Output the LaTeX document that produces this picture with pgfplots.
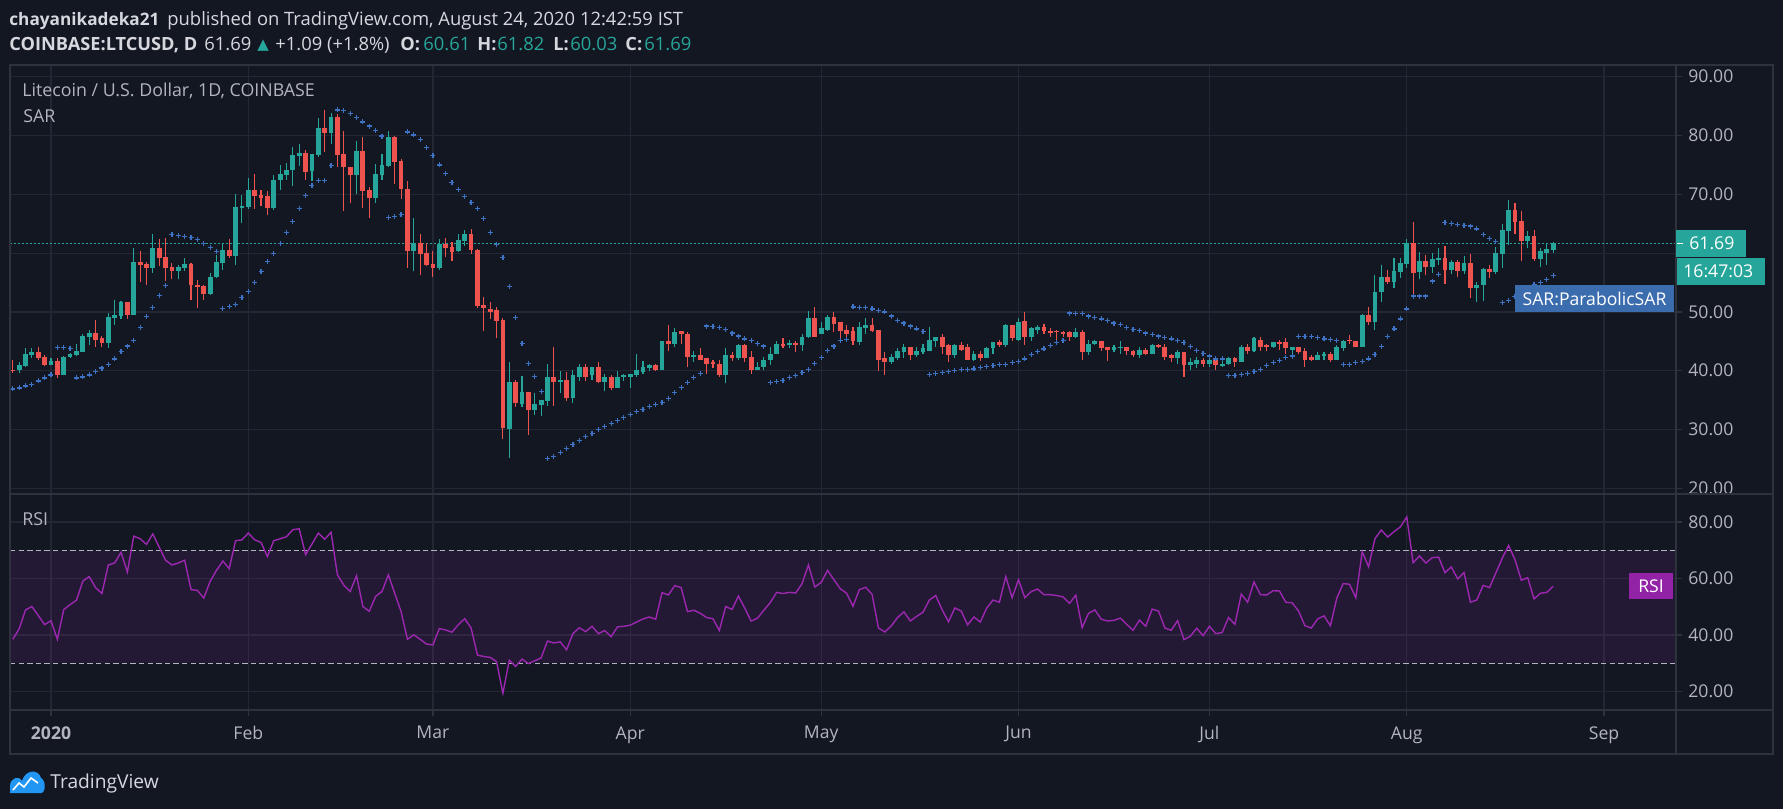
\documentclass[border=0pt]{standalone}
\usepackage{pgfplots}
\pgfplotsset{compat=1.18}
\usepackage{pgfplotstable}
\usepackage{fontspec}
\setmainfont{Open Sans}
\newfontfamily\dejavu{DejaVu Sans}
\definecolor{bg}{HTML}{131722}
\definecolor{bord}{HTML}{2E323D}
\definecolor{gridc}{HTML}{232733}
\definecolor{upc}{HTML}{26A69A}
\definecolor{dnc}{HTML}{EF5350}
\definecolor{sarc}{HTML}{3E72C4}
\definecolor{sarlab}{HTML}{3B6DAE}
\definecolor{rsic}{HTML}{9C27B0}
\definecolor{rsilab}{HTML}{9323A6}
\definecolor{scalec}{HTML}{B2B5BE}
\definecolor{hdr}{HTML}{D6D8DE}
\definecolor{dashc}{HTML}{B2B5BE}
\definecolor{tvblue}{HTML}{2196F3}
\newcommand\hf{\fontsize{9.2}{11}\selectfont}
\newcommand\hfb{\fontsize{8.6}{11}\selectfont\bfseries}
\newcommand\hfbb{\fontsize{9.1}{11}\selectfont\bfseries}
\newcommand\scl{\fontsize{8.8}{10}\selectfont}
\newcommand\ttl{\fontsize{8.9}{11}\selectfont}

\pgfplotstableread{
d o h l c
-5 40.06 41.5 39.6 40.96
-4 40.85 43.8 40.7 42.9
-3 42.7 43.9 42.1 43.2
0 41.0 42.2 40.9 41.7
2 39.3 42.5 39.2 42.4
3 42.3 43.0 42.15 42.9
4 42.65 44.6 42.5 43.4
5 43.2 46.2 43.1 45.9
6 45.8 46.9 44.35 46.4
9 44.75 49.8 43.8 49.15
10 49.0 52.0 47.7 49.5
11 49.3 51.9 48.75 51.6
13 49.5 60.85 49.5 58.5
16 57.5 63.2 56.7 60.85
20 56.95 58.0 55.65 57.6
21 57.5 59.15 56.95 58.2
25 53.1 56.55 52.9 56.0
26 55.9 59.7 55.75 58.5
27 58.4 61.5 57.2 60.6
29 59.55 70.1 58.0 67.8
30 67.6 69.8 65.1 68.0
31 67.8 72.8 67.45 70.7
35 67.7 73.3 67.4 72.5
36 72.5 74.9 70.7 73.4
37 73.3 75.4 72.5 74.2
38 74.1 78.0 71.4 76.6
39 76.5 78.5 74.8 77.0
41 73.9 76.9 72.2 76.8
42 76.6 82.9 76.4 81.35
44 80.4 83.9 78.5 83.2
48 73.3 79.15 70.05 77.3
51 69.4 75.2 68.5 73.4
52 73.3 76.8 72.4 74.9
53 74.75 80.7 74.6 79.8
57 60.4 66.0 57.0 61.8
61 57.5 62.4 57.1 61.5
64 60.3 63.3 60.2 62.2
65 62.1 63.9 61.25 63.3
72 30.0 41.5 25.1 38.1
74 34.4 39.1 33.9 36.35
76 33.3 36.2 32.4 34.3
77 34.1 35.1 32.3 35.0
78 34.8 41.1 34.0 39.0
80 38.0 39.9 36.2 38.4
82 35.3 40.2 34.5 39.2
83 39.0 41.1 38.2 40.7
85 39.2 40.7 38.4 40.6
87 38.0 39.5 36.5 38.9
89 37.0 39.9 37.0 39.0
90 38.9 39.5 38.2 39.2
91 39.0 39.5 37.0 39.4
92 39.2 42.9 38.9 40.05
93 39.7 41.6 39.4 40.6
94 40.4 41.2 39.9 40.9
96 40.2 45.1 40.2 45.1
98 44.6 47.2 44.1 46.5
101 42.3 43.3 41.4 42.6
106 39.2 43.8 37.85 42.6
108 42.1 44.5 41.9 44.3
111 40.05 41.4 40.05 40.7
112 40.6 42.4 40.2 41.9
113 41.75 44.0 40.9 42.9
114 42.8 45.0 42.8 44.6
116 44.4 45.25 43.8 44.7
118 44.4 46.2 43.3 45.8
119 45.65 50.2 45.5 48.9
121 46.2 48.3 46.2 47.2
122 47.0 49.55 46.7 49.2
127 44.8 48.25 44.4 47.5
128 47.2 48.9 46.3 47.7
132 41.4 42.9 41.2 42.3
133 42.1 43.8 41.9 43.3
134 43.1 44.5 42.1 44.0
136 42.6 44.0 42.4 43.3
137 43.1 44.5 42.9 43.8
138 43.4 47.5 43.4 45.3
139 45.1 45.8 44.0 45.8
142 42.6 44.6 42.1 44.3
145 41.9 43.3 41.6 42.9
147 42.1 44.0 42.1 43.8
148 43.8 44.8 42.9 44.8
150 44.3 48.0 44.0 47.7
152 45.3 48.9 45.1 48.2
154 45.8 47.5 45.1 47.2
155 47.0 47.85 46.2 47.5
161 45.65 47.2 45.5 46.65
163 43.1 45.3 42.6 44.6
164 44.5 45.3 44.3 45.1
167 43.6 44.3 43.1 44.0
168 43.8 45.0 42.8 44.1
171 42.6 44.0 42.1 43.6
173 42.8 44.6 42.8 44.3
177 42.1 43.6 41.1 43.1
179 40.9 42.1 40.2 41.4
180 41.2 42.3 40.4 41.9
182 41.1 42.1 40.7 41.75
184 40.9 42.1 40.7 41.2
185 41.1 42.3 40.9 42.1
187 41.4 44.3 41.4 44.1
189 43.3 45.65 43.1 45.5
192 44.1 44.8 43.8 44.8
195 43.6 44.0 42.6 44.0
199 41.9 43.1 41.75 42.6
200 42.5 43.1 41.9 42.9
202 41.9 44.3 41.9 44.0
203 43.8 45.3 43.3 45.1
206 44.1 49.7 44.1 49.4
208 48.2 56.3 47.0 53.45
209 53.3 58.0 51.75 56.0
211 55.1 59.2 54.0 57.0
212 56.8 59.2 55.8 58.4
213 58.2 62.4 57.5 61.75
215 56.8 60.2 55.65 58.7
217 57.7 60.05 56.7 59.0
218 58.9 60.9 58.0 59.2
220 57.2 58.9 56.5 58.5
222 57.0 59.55 56.5 58.4
224 54.1 55.1 51.6 54.6
225 54.5 57.5 51.9 57.3
227 56.8 61.1 56.5 60.05
228 59.9 64.97 57.5 63.95
229 63.8 69.0 61.4 67.35
232 62.1 63.8 60.9 62.9
234 59.0 60.9 57.7 60.4
235 60.1 61.75 58.0 60.7
236 60.61 61.82 60.03 61.69
}\upc

\pgfplotstableread{
d o h l c
-6 40.1 41.9 39.6 40.0
-2 43.2 44.1 41.75 42.1
-1 42.4 42.7 40.85 40.96
1 41.7 42.1 38.7 39.3
7 46.4 48.6 44.1 45.25
8 45.5 45.9 43.95 44.75
12 51.6 51.7 48.75 49.5
14 58.5 60.3 55.1 58.0
15 58.2 58.5 54.6 57.5
17 60.85 62.4 57.85 59.2
18 59.3 62.6 55.3 57.5
19 57.6 58.3 55.65 56.95
22 58.1 58.3 52.1 54.5
23 54.6 55.4 50.6 54.3
24 54.35 54.6 52.1 53.1
28 60.6 62.4 59.15 59.55
32 70.7 73.4 67.45 69.65
33 69.8 70.7 68.0 69.4
34 69.65 70.5 66.5 67.7
40 77.1 77.5 72.4 73.8
43 81.35 84.4 77.2 80.4
45 83.2 83.7 74.6 76.6
46 76.8 80.7 67.2 74.6
47 74.6 74.7 68.5 73.3
49 77.3 79.7 67.7 70.6
50 70.7 71.2 66.0 69.4
54 79.8 79.9 71.75 75.5
55 75.6 76.05 69.2 70.9
56 70.85 72.2 57.5 60.4
58 61.8 63.3 56.3 59.9
59 60.0 61.8 57.8 57.9
60 58.1 60.3 56.0 57.5
62 61.5 62.6 59.3 60.9
63 61.0 61.9 58.7 60.2
66 63.3 64.1 59.9 60.6
67 60.5 60.7 50.6 51.0
68 51.2 52.5 46.7 50.6
69 50.5 51.6 48.8 50.05
70 50.3 50.9 45.5 48.5
71 48.6 48.9 28.4 30.2
73 38.1 38.5 33.8 34.5
75 36.3 36.3 29.0 33.3
79 39.0 44.0 34.0 38.0
81 38.4 39.7 34.8 35.3
84 40.7 41.2 38.2 39.0
86 40.6 41.4 37.85 38.0
88 39.0 39.2 36.8 37.0
95 40.9 41.1 39.9 40.2
97 45.1 47.7 43.4 44.6
99 46.7 46.8 44.5 46.2
100 46.3 46.5 40.7 42.3
102 42.6 43.8 41.75 41.9
103 42.1 42.1 39.4 41.2
104 41.4 41.9 40.4 41.1
105 41.2 41.75 39.0 39.2
107 42.6 43.1 41.6 42.1
109 44.3 44.5 41.4 42.1
110 42.3 43.3 39.4 40.05
115 44.6 45.6 43.8 44.3
117 44.7 45.1 43.2 44.4
120 48.9 50.9 45.7 45.8
123 49.2 50.0 46.5 48.0
124 48.2 48.2 45.5 46.8
125 47.0 47.85 45.6 46.3
126 46.7 47.5 44.3 45.0
129 47.7 49.0 46.5 46.8
130 47.0 47.0 39.9 41.9
131 42.1 43.1 39.2 41.4
135 44.0 44.1 41.75 42.6
140 45.8 46.2 42.8 44.1
141 44.3 44.6 41.4 42.6
143 44.3 44.8 43.3 43.6
144 44.0 44.6 41.9 41.9
146 42.9 43.3 41.6 42.1
149 44.8 45.3 44.0 44.3
151 47.7 47.85 45.0 45.5
153 48.4 49.9 44.3 45.8
156 47.5 48.0 46.3 46.7
157 46.8 47.2 45.8 46.5
158 46.8 47.0 45.0 46.65
159 46.65 46.8 45.8 46.3
160 46.5 46.8 45.1 45.8
162 46.65 47.0 41.9 43.1
165 45.1 45.1 43.4 43.8
166 44.0 44.1 41.6 43.6
169 44.1 44.1 42.6 43.3
170 43.4 43.6 42.4 42.6
172 43.6 43.8 42.6 42.8
174 44.3 44.5 43.8 44.0
175 44.1 44.6 41.9 42.4
176 42.6 42.9 41.4 42.1
178 43.1 43.1 39.0 40.9
181 41.9 42.1 40.6 41.1
183 41.75 42.1 40.2 40.9
186 42.1 42.3 40.6 41.4
188 44.1 44.5 42.8 43.3
190 45.3 45.8 43.4 44.1
191 44.3 44.6 43.3 44.1
193 44.8 45.3 43.6 44.6
194 44.8 45.5 42.9 43.8
196 44.0 44.0 42.8 43.1
197 43.3 43.8 40.7 41.9
198 42.25 42.6 41.6 41.9
201 42.9 43.1 41.4 41.9
204 45.3 46.0 44.6 45.0
205 45.1 45.1 44.0 44.1
207 49.4 50.9 47.7 48.2
210 56.0 57.2 54.8 55.1
214 61.75 65.3 52.6 56.7
216 58.7 59.7 56.3 57.7
219 59.2 61.2 54.8 57.2
221 58.5 58.9 56.0 57.0
223 58.4 59.9 52.4 54.1
226 57.3 58.0 55.8 56.8
230 67.35 68.5 63.3 65.3
231 65.5 67.2 58.7 62.1
233 62.9 64.0 58.7 59.0
}\dnc

\pgfplotstableread{
d s
-6 36.9
-5 37.06
-4 37.4
-3 37.7
-2 38.25
-1 38.76
0 39.27
1 44.0
2 44.0
3 43.8
4 38.76
5 38.93
6 39.27
7 39.8
8 40.45
9 41.1
10 42.0
11 43.2
12 44.2
13 45.2
14 47.4
15 49.2
16 50.8
17 52.8
18 54.5
19 63.2
20 63.0
21 62.8
22 62.65
23 62.3
24 61.6
25 61.0
26 60.3
27 50.6
28 50.9
29 51.3
30 52.5
31 53.5
32 55.0
33 56.9
34 58.6
35 59.9
36 61.6
37 63.5
38 65.4
39 67.6
40 69.8
41 71.5
42 72.3
43 72.3
44 74.9
45 84.35
46 84.2
47 83.7
48 83.0
49 82.3
50 81.6
51 80.8
52 79.9
53 66.05
54 66.2
55 66.55
56 80.6
57 80.1
58 79.3
59 77.9
60 76.55
61 75.0
62 73.5
63 72.0
64 70.8
65 69.6
66 68.6
67 67.6
68 65.9
69 63.5
70 61.5
71 59.3
72 54.35
73 49.1
74 44.65
75 41.2
76 39.0
77 36.4
78 25.1
79 25.4
80 26.1
81 26.8
82 27.5
83 28.1
84 28.8
85 29.3
86 30.0
87 30.5
88 31.0
89 31.5
90 32.0
91 32.5
92 33.05
93 33.4
94 33.9
95 34.2
96 34.6
97 35.25
98 36.3
99 37.1
100 38.0
101 38.8
102 39.5
103 47.6
104 47.5
105 47.3
106 46.95
107 46.4
108 45.9
109 45.4
110 45.1
111 44.6
112 44.2
113 38.0
114 38.1
115 38.3
116 38.8
117 39.15
118 39.7
119 40.2
120 41.2
121 42.2
122 43.4
123 44.2
124 45.1
125 45.25
126 50.85
127 50.7
128 50.7
129 50.5
130 50.3
131 50.0
132 49.3
133 48.6
134 48.1
135 47.6
136 47.1
137 46.6
138 39.3
139 39.5
140 39.7
141 39.8
142 40.0
143 40.2
144 40.2
145 40.3
146 40.5
147 40.7
148 40.85
149 41.0
150 41.0
151 41.4
152 41.5
153 42.0
154 42.7
155 43.2
156 43.7
157 44.3
158 44.8
159 45.1
160 49.8
161 49.7
162 49.7
163 49.3
164 49.0
165 48.8
166 48.5
167 48.1
168 47.8
169 47.3
170 46.95
171 46.8
172 46.4
173 46.1
174 45.9
175 45.6
176 45.4
177 45.1
178 44.75
179 44.1
180 43.4
181 42.9
182 42.5
183 42.0
184 42.0
185 39.15
186 39.15
187 39.3
188 39.5
189 39.8
190 40.2
191 40.85
192 41.4
193 41.7
194 42.2
195 42.5
196 45.8
197 45.8
198 45.8
199 45.6
200 45.4
201 45.25
202 45.1
203 41.0
204 41.0
205 41.4
206 41.5
207 42.0
208 42.7
209 44.1
210 45.8
211 47.1
212 48.8
213 50.5
214 52.7
215 52.7
216 52.7
217 55.25
218 56.4
219 65.25
220 65.1
221 64.9
222 64.75
223 64.6
224 64.1
225 63.2
226 62.5
227 62.0
228 51.6
229 52.0
230 52.6
231 53.2
232 53.9
233 54.6
234 55.0
235 55.5
236 56.2
}\sar

\pgfplotstableread{
d r
-6 38.5
-5 42.2
-4 48.9
-3 50.1
-2 46.9
-1 43.7
0 45.1
1 38.5
2 49.0
3 50.8
4 52.3
5 59.1
6 60.7
7 56.8
8 54.7
9 64.8
10 65.5
11 69.3
12 62.3
13 75.0
14 74.1
15 72.1
16 75.8
17 71.1
18 66.5
19 64.8
20 65.5
21 66.5
22 56.1
23 55.8
24 53.1
25 59.0
26 62.9
27 66.2
28 63.5
29 73.4
30 73.7
31 76.1
32 73.7
33 72.8
34 67.8
35 73.4
36 74.1
37 74.8
38 77.3
39 77.6
40 68.5
41 72.2
42 76.1
43 73.9
44 76.4
45 61.3
46 57.7
47 55.4
48 61.0
49 50.1
50 48.4
51 53.7
52 55.4
53 61.3
54 54.8
55 48.3
56 38.5
57 40.1
58 38.5
59 36.8
60 36.5
61 42.3
62 41.8
63 41.0
64 43.7
65 45.8
66 42.5
67 32.9
68 32.4
69 32.1
70 30.6
71 19.4
72 31.1
73 28.9
74 31.5
75 29.9
76 30.9
77 31.9
78 37.9
79 37.2
80 37.6
81 34.8
82 40.5
83 42.6
84 41.2
85 43.1
86 40.5
87 41.6
88 39.4
89 42.9
90 43.1
91 43.5
92 44.6
93 45.7
94 46.4
95 45.6
96 55.0
97 54.2
98 57.5
99 56.8
100 48.3
101 48.8
102 47.7
103 46.2
104 45.8
105 41.6
106 50.1
107 49.1
108 53.8
109 49.5
110 44.9
111 46.0
112 48.8
113 51.5
114 55.1
115 54.7
116 55.1
117 54.9
118 58.2
119 64.8
120 57.0
121 58.6
122 62.9
123 59.6
124 56.4
125 54.8
126 50.2
127 56.1
128 56.9
129 54.4
130 42.5
131 41.1
132 43.2
133 46.2
134 48.2
135 45.0
136 46.6
137 48.1
138 52.4
139 54.0
140 49.0
141 44.7
142 49.6
143 48.5
144 43.6
145 46.4
146 44.6
147 49.5
148 52.4
149 51.6
150 60.7
151 53.2
152 59.6
153 53.2
154 55.4
155 56.3
156 54.3
157 54.3
158 54.0
159 53.5
160 51.2
161 54.1
162 42.6
163 47.7
164 48.9
165 45.6
166 45.0
167 45.2
168 46.0
169 43.8
170 41.7
171 45.3
172 43.1
173 49.2
174 48.5
175 42.5
176 41.7
177 45.1
178 38.4
179 39.6
180 42.4
181 39.8
182 43.1
183 40.5
184 40.9
185 46.2
186 43.8
187 54.5
188 51.6
189 58.8
190 54.3
191 54.2
192 55.7
193 55.6
194 51.6
195 51.4
196 48.5
197 43.3
198 42.5
199 45.7
200 46.8
201 43.3
202 53.0
203 58.2
204 58.0
205 53.2
206 69.5
207 64.2
208 74.1
209 77.2
210 74.7
211 76.6
212 78.3
213 81.8
214 65.6
215 68.0
216 65.5
217 67.4
218 67.6
219 62.1
220 64.1
221 59.9
222 62.1
223 51.6
224 52.4
225 57.6
226 56.8
227 62.0
228 67.2
229 71.7
230 66.7
231 59.4
232 60.3
233 52.8
234 54.8
235 55.1
236 57.3
}\rsi

\pgfplotsset{
  tvaxis/.style={
    scale only axis, width=833pt, enlargelimits=false,
    xmin=-6.44, xmax=255.3,
    axis line style={draw=none},
    xtick={0,31,60,91,121,152,182,213,244},
    xmajorgrids, ymajorgrids,
    grid style={gridc, line width=0.6pt},
    ytick pos=right, yticklabel pos=right,
    tick align=outside, major tick length=3pt,
    tick style={bord, line width=0.6pt},
    tick label style={font=\scl, text=scalec, inner sep=0pt},
    yticklabel style={anchor=west, xshift=3pt,
      /pgf/number format/.cd, fixed, fixed zerofill, precision=2, assume math mode=true},
  },
  wick/.style={draw=none, mark=none, forget plot,
    error bars/.cd, y dir=both, y explicit, error mark=none,
    error bar style={draw=#1, line width=0.55pt, solid}},
  body/.style={draw=none, mark=none, forget plot,
    error bars/.cd, y dir=both, y explicit, error mark=none,
    error bar style={draw=#1, line width=2.4pt, solid}},
}

\begin{document}
\begin{tikzpicture}
\fill[bg] (0pt,0pt) rectangle (891.5pt,-404.5pt);

% ---------------- price pane ----------------
\begin{axis}[tvaxis, at={(5pt,-32.5pt)}, anchor=north west, height=214.5pt,
  ymin=19.03, ymax=91.99, ytick={20,30,...,90},
  yticklabels={20.00,30.00,40.00,50.00,{},70.00,80.00,90.00},
  xticklabels={}, xtick style={draw=none}]
\addplot[upc, line width=0.5pt, dash pattern=on 1pt off 1pt, forget plot]
  coordinates {(-6.44,61.69) (255.3,61.69)};
\addplot[only marks, mark=+, mark size=1.25pt, sarc, line width=0.6pt]
  table[x=d, y=s] {\sar};
\addplot[wick=upc] table[x=d, y expr={(\thisrow{h}+\thisrow{l})/2},
  y error expr={(\thisrow{h}-\thisrow{l})/2}] {\upc};
\addplot[wick=dnc] table[x=d, y expr={(\thisrow{h}+\thisrow{l})/2},
  y error expr={(\thisrow{h}-\thisrow{l})/2}] {\dnc};
\addplot[body=upc] table[x=d, y expr={(\thisrow{o}+\thisrow{c})/2},
  y error expr={max(abs(\thisrow{c}-\thisrow{o})/2,0.09)}] {\upc};
\addplot[body=dnc] table[x=d, y expr={(\thisrow{o}+\thisrow{c})/2},
  y error expr={max(abs(\thisrow{c}-\thisrow{o})/2,0.09)}] {\dnc};
\end{axis}

% ---------------- RSI pane ----------------
\begin{axis}[tvaxis, at={(5pt,-247pt)}, anchor=north west, height=108pt,
  ymin=13.47, ymax=89.93, ytick={20,40,60,80},
  xtick pos=bottom,
  xticklabels={\textbf{2020},Feb,Mar,Apr,May,Jun,Jul,Aug,Sep},
  xticklabel style={anchor=north, yshift=-5pt}]
\addplot[draw=none, fill=rsic, fill opacity=0.13, forget plot]
  coordinates {(-6.44,30) (255.3,30) (255.3,70) (-6.44,70)} -- cycle;
\addplot[dashc, line width=0.55pt, dash pattern=on 2.7pt off 1.6pt, forget plot]
  coordinates {(-6.44,70) (255.3,70)};
\addplot[dashc, line width=0.55pt, dash pattern=on 2.7pt off 1.6pt, forget plot]
  coordinates {(-6.44,30) (255.3,30)};
\addplot[rsic, line width=0.7pt] table[x=d, y=r] {\rsi};
\end{axis}

\begin{scope}[x=0.5pt, y=-0.5pt]
% frame
\draw[bord, line width=1pt] (10,65) rectangle (1773,754);
\draw[bord, line width=1pt] (10,494) -- (1773,494);
\draw[bord, line width=1pt] (10,710) -- (1773,710);
\draw[bord, line width=1pt] (1676,65) -- (1676,754);
% header
\node[anchor=base west, inner sep=0pt, font=\hfb, text=hdr] at (9,25) {chayanikadeka21};
\node[anchor=base west, inner sep=0pt, font=\hf, text=hdr] at (167,25) {published on TradingView.com, August 24, 2020 12:42:59 IST};
\node[anchor=base west, inner sep=0pt, font=\hfbb, text=hdr] at (9,50) {COINBASE:LTCUSD, D};
\node[anchor=base west, inner sep=0pt, font=\hf, text=hdr] at (204,50) {61.69};
\node[anchor=base west, inner sep=0pt, font=\dejavu\fontsize{7.5}{9}\selectfont, text=upc] at (257,49) {▲};
\node[anchor=base west, inner sep=0pt, font=\hf, text=hdr] at (275,50) {+1.09 (+1.8\%)};
\node[anchor=base west, inner sep=0pt, font=\hfbb, text=hdr] at (400,50) {O:};
\node[anchor=base west, inner sep=0pt, font=\hf, text=upc] at (423,50) {60.61};
\node[anchor=base west, inner sep=0pt, font=\hfbb, text=hdr] at (477,50) {H:};
\node[anchor=base west, inner sep=0pt, font=\hf, text=upc] at (497,50) {61.82};
\node[anchor=base west, inner sep=0pt, font=\hfbb, text=hdr] at (553,50) {L:};
\node[anchor=base west, inner sep=0pt, font=\hf, text=upc] at (570,50) {60.03};
\node[anchor=base west, inner sep=0pt, font=\hfbb, text=hdr] at (625,50) {C:};
\node[anchor=base west, inner sep=0pt, font=\hf, text=upc] at (644,50) {61.69};
% pane titles
\node[anchor=base west, inner sep=0pt, font=\ttl, text=scalec] at (22,96.7) {Litecoin / U.S. Dollar, 1D, COINBASE};
\node[anchor=base west, inner sep=0pt, font=\ttl, text=scalec] at (23,122.7) {SAR};
\node[anchor=base west, inner sep=0pt, font=\ttl, text=scalec] at (22,525.7) {RSI};
% right scale labels
\fill[upc] (1676,230) rectangle (1746,257);
\draw[white, line width=0.6pt] (1677,243.5) -- (1683,243.5);
\node[anchor=west, inner sep=0pt, font=\scl, text=white] at (1689,243.5) {61.69};
\fill[upc] (1677,258) rectangle (1765,285);
\node[anchor=west, inner sep=0pt, font=\scl, text=white] at (1683,271.5) {16:47:03};
\fill[sarlab] (1515,285) rectangle (1674,312);
\node[inner sep=0pt, font=\scl, text=white] at (1594.5,298.5) {SAR:ParabolicSAR};
\fill[rsilab] (1629,573) rectangle (1673,599);
\node[inner sep=0pt, font=\scl, text=white] at (1651,586) {RSI};
% logo
\fill[tvblue] (10,793) -- (10,786) .. controls (10,778) and (19,775) .. (22,781)
  .. controls (25,770) and (38,768) .. (41,778) .. controls (46,780) and (46,793) .. (41,793) -- cycle;
\draw[white, line width=0.8pt] (13,790) -- (19,783) -- (24,787) -- (31,778) -- (38,783);
\node[anchor=base west, inner sep=0pt, font=\fontsize{9.6}{11}\selectfont, text=hdr] at (50,788) {TradingView};
\end{scope}

\pgfresetboundingbox
\path[use as bounding box] (0pt,0pt) rectangle (891.5pt,-404.5pt);
\end{tikzpicture}
\end{document}
